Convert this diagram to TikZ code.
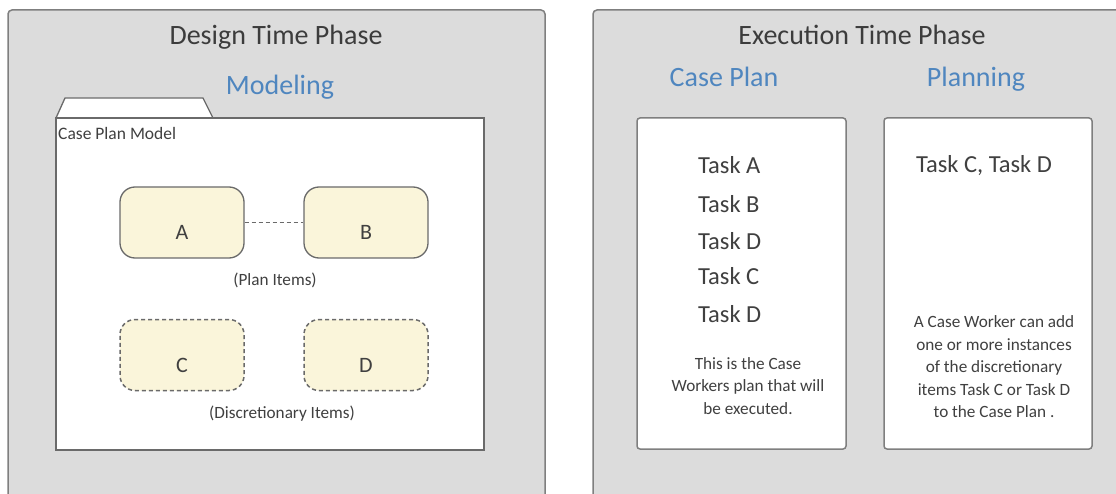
\documentclass[tikz,border=0pt]{standalone}
\usepackage{fontspec}
\setmainfont{Carlito}
\definecolor{panelfill}{HTML}{DCDCDC}
\definecolor{panelline}{HTML}{7F7F7F}
\definecolor{itemfill}{HTML}{FAF5DA}
\definecolor{itemline}{HTML}{6A6A6A}
\definecolor{titlec}{HTML}{3C3C3C}
\definecolor{bluec}{HTML}{4F86BF}
\definecolor{txtc}{HTML}{404040}
\tikzset{
  panel/.style={draw=panelline, line width=1.5pt, fill=panelfill, rounded corners=4pt},
  whitebox/.style={draw=panelline, line width=1.5pt, fill=white, rounded corners=3pt},
  item/.style={draw=itemline, line width=1.3pt, fill=itemfill, rounded corners=15pt, minimum width=124pt, minimum height=71pt, inner sep=0pt},
  ditem/.style={item, line width=1.5pt, dash pattern=on 4pt off 3pt},
  itemlbl/.style={font=\fontsize{22}{26}\selectfont, text=txtc},
  title/.style={font=\fontsize{28}{32}\selectfont, text=titlec, anchor=base},
  bluetitle/.style={font=\fontsize{28}{32}\selectfont, text=bluec, anchor=base},
  task/.style={font=\fontsize{24.5}{28}\selectfont, text=txtc, anchor=west, inner sep=0pt},
  small/.style={font=\fontsize{17.2}{22.5}\selectfont, text=txtc, align=center, inner sep=0pt},
}
\begin{document}
\begin{tikzpicture}[x=1pt,y=-1pt]
\useasboundingbox (0,0) rectangle (1116,494);
\begin{scope}
\clip (0,0) rectangle (1116,494);
% panels
\draw[panel] (8,10) rectangle (545,530);
\draw[panel] (593,10) rectangle (1140,530);
\end{scope}
\node[title] (dtp) at (276,45) {Design Time Phase};
\node[bluetitle] (mod) at (280,95) {Modeling};
% package
\draw[draw=itemline, line width=1.3pt, fill=white] (56,118) -- (65,98) -- (203,98) -- (213,118) -- cycle;
\draw[draw=itemline, line width=1.3pt, fill=white] (56,118) rectangle (484,450);
\node[font=\fontsize{17.5}{20}\selectfont, text=txtc, anchor=west, inner sep=0pt] (cpm) at (58,133) {Case Plan Model};
% items
\node[item, label={[itemlbl, yshift=-10pt]center:A}] (A) at (182,222.5) {};
\node[item, label={[itemlbl, yshift=-10pt]center:B}] (B) at (366,222.5) {};
\draw[dashed, draw=itemline, line width=1.1pt, dash pattern=on 4pt off 3pt] (A.east) -- (B.west);
\node[small] (pi) at (275,280) {(Plan Items)};
\node[ditem, label={[itemlbl, yshift=-10pt]center:C}] (C) at (182,355) {};
\node[ditem, label={[itemlbl, yshift=-10pt]center:D}] (D) at (366,355) {};
\node[small] (di) at (282,414) {(Discretionary Items)};
% right panel
\node[title] (etp) at (862,45) {Execution Time Phase};
\node[bluetitle] (cp) at (724,87) {Case Plan};
\node[bluetitle] (pl) at (976,87) {Planning};
\draw[whitebox] (637,118) rectangle (846,449);
\draw[whitebox] (884,118) rectangle (1092,449);
\node[task] (ta) at (698,165) {Task A};
\node[task] (tb) at (698,204) {Task B};
\node[task] (td1) at (698,241) {Task D};
\node[task] (tc) at (698,276) {Task C};
\node[task] (td2) at (698,314) {Task D};
\node[small] (cpt) at (748,386) {This is the Case\\Workers plan that will\\be executed.};
\node[task, anchor=center] (tcd) at (984,166) {Task C, Task D};
\node[small] (plt) at (994,367) {A Case Worker can add\\one or more instances\\of the discretionary\\items Task C or Task D\\to the Case Plan .};
\end{tikzpicture}
\end{document}
